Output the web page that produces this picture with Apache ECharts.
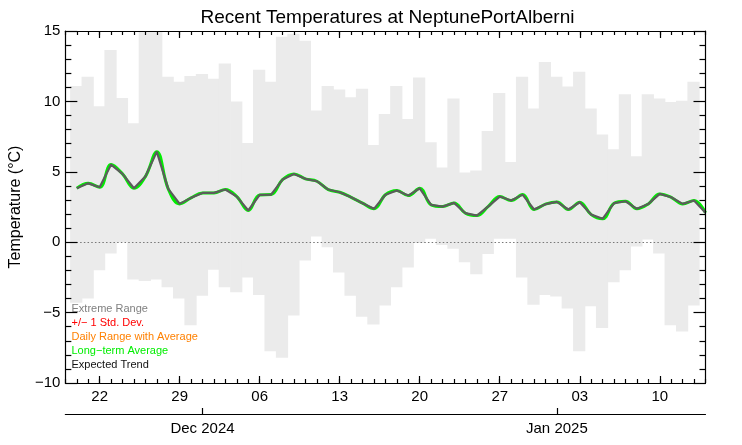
<!DOCTYPE html>
<html>
<head>
<meta charset="utf-8">
<script src="https://cdn.jsdelivr.net/npm/echarts@6/dist/echarts.min.js"></script>
<style>
  html, body { margin: 0; padding: 0; background: #fff; }
  #chart { width: 742px; height: 445px; }
</style>
</head>
<body>
<div id="chart"></div>
<script>
// first local day of the extreme-range bars (one bar per day)
const firstBarDay = '2024-11-19';
// daily extreme max / min (°C)
const extremeMax = [11.1, 11.75, 9.65, 13.65, 10.25, 8.45, 15.8, 16.2, 11.75, 11.4,
  11.8, 11.95, 11.6, 12.7, 10.0, 7.05, 12.25, 11.4, 14.6, 14.8,
  14.3, 9.35, 11.1, 10.85, 10.3, 10.9, 6.9, 9.1, 11.1, 8.75,
  11.7, 7.1, 5.3, 10.2, 4.95, 5.1, 7.9, 10.6, 5.7, 11.75,
  9.5, 12.8, 11.75, 11.05, 12.1, 9.5, 7.65, 6.6, 10.5, 6.1,
  10.5, 10.2, 9.95, 10.05, 11.4];
const extremeMin = [-4.3, -4.0, -2.0, -0.8, 0.0, -2.65, -2.75, -2.65, -3.2, -4.0,
  -5.9, -3.8, -1.95, -3.2, -3.55, -2.5, -3.75, -7.75, -8.2, -5.2,
  -1.3, 0.4, -0.35, -2.15, -3.8, -5.3, -5.85, -4.5, -3.2, -1.8,
  -0.05, 0.25, -0.2, -0.47, -1.42, -2.27, -0.83, 0.24, 0.24, -2.5,
  -4.45, -3.75, -3.85, -4.7, -7.75, -4.55, -6.1, -2.85, -2.0, -0.3,
  0.2, -0.8, -5.9, -6.35, -4.5];

// first date of the trend / average lines (one point per day)
const firstLineDay = '2024-11-20';
const expectedTrend = [3.83, 4.18, 3.90, 5.51, 4.85, 3.83, 4.66, 6.43, 3.79, 2.72,
  3.15, 3.50, 3.50, 3.74, 3.24, 2.25, 3.36, 3.38, 4.45, 4.85,
  4.50, 4.33, 3.74, 3.55, 3.19, 2.77, 2.37, 3.37, 3.67, 3.31,
  3.83, 2.65, 2.53, 2.79, 2.06, 1.89, 2.55, 3.24, 2.96, 3.38,
  2.32, 2.70, 2.86, 2.32, 2.84, 1.96, 1.66, 2.77, 2.91, 2.37,
  2.72, 3.43, 3.19, 2.72, 2.96, 2.09];
const longTermAvg = [3.83, 4.18, 3.90, 5.51, 4.85, 3.83, 4.66, 6.43, 3.79, 2.72,
  3.15, 3.50, 3.50, 3.74, 3.24, 2.25, 3.36, 3.38, 4.45, 4.85,
  4.50, 4.33, 3.74, 3.55, 3.19, 2.77, 2.37, 3.37, 3.67, 3.31,
  3.83, 2.65, 2.53, 2.79, 2.06, 1.89, 2.55, 3.24, 2.96, 3.38,
  2.32, 2.70, 2.86, 2.32, 2.84, 1.96, 1.66, 2.77, 2.91, 2.37,
  2.72, 3.43, 3.19, 2.72, 2.96, 2.09];

// axis range and tick labels
const axisStart = '2024-11-19';
const axisEnd = '2025-01-14';
const weekTicks = ['2024-11-22', '2024-11-29', '2024-12-06', '2024-12-13',
  '2024-12-20', '2024-12-27', '2025-01-03', '2025-01-10'];
const monthTicks = ['2024-12-01', '2025-01-01'];
const monthLabels = ['Dec 2024', 'Jan 2025'];
const legendNames = ['Extreme Range', '+/\u2212 1 Std. Dev.', 'Daily Range with Average', 'Long\u2212term Average', 'Expected Trend'];
const legendColors = ['#808080', '#ff0000', '#ff8000', '#00ee00', '#111111'];

const DAY = 864e5;
const HOUR = 36e5;
const ts = s => Date.parse(s + 'T00:00:00Z');

const t0 = ts(axisStart), t1 = ts(axisEnd);
const dayTicks = [];
for (let t = t0; t <= t1; t += DAY) dayTicks.push(t);
const weekTs = weekTicks.map(ts);
const monthTs = monthTicks.map(ts);

// bars cover the local (PST) day, shifted from UTC midnight
const barStart = ts(firstBarDay) + 10 * HOUR;
const barData = extremeMax.map((mx, i) => [barStart + i * DAY, barStart + (i + 1) * DAY, extremeMin[i], mx]);
const lineStart = ts(firstLineDay);
const trendData = expectedTrend.map((v, i) => [lineStart + i * DAY, v]);
const avgData = longTermAvg.map((v, i) => [lineStart + i * DAY, v]);

const FONT = '"Liberation Sans", Arial, Helvetica, sans-serif';
const black = { color: '#000', width: 1.2 };
const pad2 = n => (n < 10 ? '0' : '') + n;

// axes sit on their own layer so the inside ticks show over the bars
function dateAxis(extra) {
  let ax = Object.assign({
    type: 'value', min: t0, max: t1, scale: true, zlevel: 1, z: 10,
    axisLabel: { show: false },
    splitLine: { show: false },
  }, extra);
  ax.axisLine = Object.assign({ show: false, onZero: false }, extra.axisLine || {});
  return ax;
}

let chart = echarts.init(document.getElementById('chart'), null, { renderer: 'canvas' });
let option = {
  animation: false,
  backgroundColor: '#fff',
  textStyle: { fontFamily: FONT },
  title: {
    text: 'Recent Temperatures at NeptunePortAlberni',
    left: 382.5,
    textAlign: 'center',
    top: 3,
    textStyle: { fontSize: 19, fontWeight: 'normal', color: '#000', fontFamily: FONT },
  },
  legend: {
    orient: 'vertical',
    left: 66.5,
    top: 303,
    padding: 0,
    itemGap: 3,
    itemWidth: 0,
    itemHeight: 11,
    icon: 'rect',
    itemStyle: { opacity: 0 },
    lineStyle: { opacity: 0 },
    selectedMode: false,
    zlevel: 1,
    textStyle: { fontSize: 11, fontFamily: FONT },
    data: legendNames.map((n, i) => ({ name: n, textStyle: { color: legendColors[i] } })),
  },
  grid: { left: 59.5, top: 31, width: 646, height: 352, containLabel: false },
  xAxis: [
    dateAxis({
      position: 'bottom',
      axisLine: { show: true, lineStyle: black },
      axisTick: { inside: true, length: 7, customValues: weekTs, lineStyle: black },
      axisLabel: {
        show: true, customValues: weekTs, margin: 6, fontSize: 15, color: '#000', fontFamily: FONT,
        formatter: v => pad2(new Date(v).getUTCDate()),
      },
    }),
    dateAxis({
      position: 'bottom',
      axisTick: { inside: true, length: 4, customValues: dayTicks, lineStyle: black },
    }),
    dateAxis({
      position: 'top',
      axisLine: { show: true, lineStyle: black },
      axisTick: { inside: true, length: 7, customValues: weekTs, lineStyle: black },
    }),
    dateAxis({
      position: 'top',
      axisTick: { inside: true, length: 4, customValues: dayTicks, lineStyle: black },
    }),
    dateAxis({
      position: 'bottom', offset: 31,
      axisLine: { show: true, lineStyle: black },
      axisTick: { inside: true, length: 6, customValues: monthTs, lineStyle: black },
      axisLabel: {
        show: true, customValues: monthTs, margin: 7, fontSize: 15, color: '#000', fontFamily: FONT,
        formatter: v => monthLabels[monthTs.indexOf(v)] || '',
      },
    }),
  ],
  yAxis: [
    {
      type: 'value', min: -10, max: 15, interval: 5, position: 'left', zlevel: 1, z: 10,
      name: 'Temperature (\u00b0C)', nameLocation: 'middle', nameGap: 36,
      nameTextStyle: { fontSize: 16, color: '#000', fontFamily: FONT },
      axisLine: { show: true, onZero: false, lineStyle: black },
      axisTick: { show: true, inside: true, length: 12, lineStyle: black },
      minorTick: { show: true, splitNumber: 5, length: 6, lineStyle: black },
      axisLabel: {
        margin: 5, fontSize: 15, color: '#000', fontFamily: FONT,
        formatter: v => (v < 0 ? '\u2212' + (-v) : String(v)),
      },
      splitLine: { show: false },
    },
    {
      type: 'value', min: -10, max: 15, interval: 5, position: 'right', zlevel: 1, z: 10,
      axisLine: { show: true, onZero: false, lineStyle: black },
      axisTick: { show: true, inside: true, length: 12, lineStyle: black },
      minorTick: { show: true, splitNumber: 5, length: 6, lineStyle: black },
      axisLabel: { show: false },
      splitLine: { show: false },
    },
  ],
  series: [
    {
      name: legendNames[0],
      type: 'custom',
      xAxisIndex: 0,
      yAxisIndex: 0,
      z: 1,
      encode: { x: [0, 1], y: [2, 3] },
      data: barData,
      renderItem: (params, api) => {
        let p1 = api.coord([api.value(0), api.value(3)]);
        let p2 = api.coord([api.value(1), api.value(2)]);
        let shape = echarts.graphic.clipRectByRect(
          { x: p1[0], y: p1[1], width: p2[0] - p1[0] + 0.8, height: p2[1] - p1[1] },
          { x: params.coordSys.x, y: params.coordSys.y, width: params.coordSys.width, height: params.coordSys.height }
        );
        return shape && { type: 'rect', shape: shape, style: { fill: '#ebebeb' } };
      },
    },
    { name: legendNames[1], type: 'line', data: [], color: '#ff0000' },
    { name: legendNames[2], type: 'line', data: [], color: '#ff8000' },
    {
      name: legendNames[3],
      type: 'line',
      z: 3,
      data: avgData,
      smooth: 0.4,
      showSymbol: false,
      color: '#00ee00',
      lineStyle: { color: '#00ee00', width: 3 },
    },
    {
      name: legendNames[4],
      type: 'line',
      z: 4,
      data: trendData,
      showSymbol: false,
      color: '#5c5c5c',
      lineStyle: { color: '#5c5c5c', width: 2.2 },
      markLine: {
        silent: true,
        symbol: 'none',
        label: { show: false },
        lineStyle: { color: '#777', width: 1.2, type: [1.5, 2.2] },
        data: [{ yAxis: 0 }],
      },
    },
  ],
};
chart.setOption(option);
window.addEventListener('resize', () => {
  chart.resize();
});
</script>
</body>
</html>
